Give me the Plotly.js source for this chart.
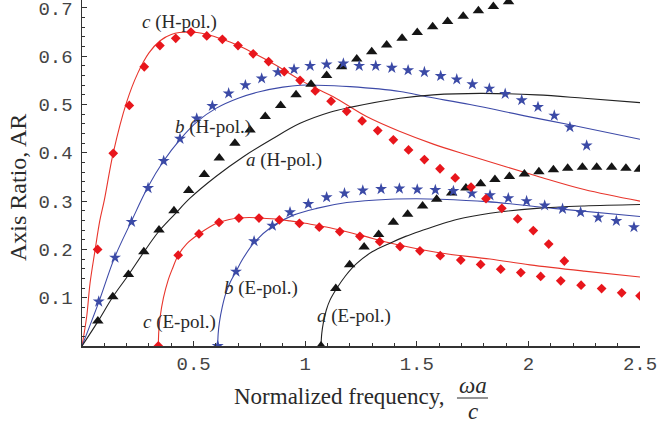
<!DOCTYPE html>
<html>
<head>
<meta charset="utf-8">
<script src="https://cdn.plot.ly/plotly-3.0.1.min.js"></script>
<style>
  html, body { margin: 0; padding: 0; background: #ffffff; }
  #chart { width: 659px; height: 430px; }
</style>
</head>
<body>
<div id="chart"></div>
<script>
// ---------- Data ----------
// c (H-pol.) : measured (red diamonds) and theory (red line)
const cH_x = [0.07,0.14,0.212,0.279,0.349,0.42,0.488,0.559,0.629,0.699,0.767,0.836,0.906,0.977,1.045,1.116,1.186,1.255,1.325,1.395,1.463,1.534,1.604,1.672,1.743,1.81,1.881,1.952,2.022,2.091,2.161];
const cH_y = [0.200,0.399,0.498,0.578,0.622,0.637,0.650,0.642,0.635,0.622,0.605,0.589,0.568,0.550,0.528,0.507,0.486,0.466,0.446,0.427,0.406,0.386,0.367,0.348,0.329,0.305,0.285,0.263,0.239,0.211,0.176];
const cHline_x = [0,0.021,0.036,0.058,0.08,0.1,0.14,0.2,0.25,0.3,0.35,0.4,0.48,0.56,0.63,0.7,0.77,0.84,0.91,0.98,1.05,1.126,1.275,1.425,1.574,1.738,2.037,2.25,2.5];
const cHline_y = [0,0.061,0.13,0.197,0.26,0.302,0.40,0.505,0.565,0.607,0.632,0.645,0.65,0.645,0.635,0.622,0.606,0.589,0.57,0.55,0.533,0.516,0.475,0.444,0.418,0.394,0.352,0.324,0.300];

// b (H-pol.) : blue stars and blue line
const bH_x = [0.075,0.148,0.222,0.296,0.366,0.439,0.514,0.584,0.657,0.732,0.805,0.878,0.950,1.022,1.096,1.171,1.242,1.316,1.388,1.461,1.534,1.607,1.679,1.749,1.825,1.896,1.970,2.043,2.116,2.186,2.261];
const bH_y = [0.092,0.183,0.257,0.327,0.383,0.429,0.471,0.497,0.523,0.540,0.554,0.567,0.573,0.580,0.583,0.585,0.580,0.580,0.576,0.571,0.567,0.559,0.552,0.542,0.533,0.522,0.509,0.495,0.477,0.453,0.415];
const bHline_x = [0,0.076,0.145,0.22,0.294,0.364,0.44,0.52,0.6,0.7,0.8,0.9,0.977,1.05,1.201,1.425,1.544,1.738,2.0,2.186,2.5];
const bHline_y = [0,0.092,0.182,0.257,0.328,0.382,0.428,0.466,0.492,0.513,0.527,0.536,0.540,0.540,0.537,0.527,0.516,0.500,0.475,0.458,0.428];

// a (H-pol.) : black triangles and black line
const aH_x = [0.071,0.138,0.208,0.277,0.345,0.412,0.478,0.548,0.615,0.685,0.753,0.821,0.890,0.959,1.026,1.096,1.163,1.231,1.298,1.365,1.434,1.502,1.571,1.638,1.708,1.776,1.843,1.911];
const aH_y = [0.052,0.102,0.148,0.195,0.240,0.280,0.322,0.355,0.389,0.420,0.447,0.475,0.498,0.520,0.542,0.560,0.578,0.594,0.609,0.623,0.637,0.649,0.661,0.672,0.683,0.694,0.703,0.713];
const aHline_x = [0,0.073,0.137,0.208,0.275,0.342,0.414,0.484,0.6,0.723,0.85,0.977,1.111,1.201,1.425,1.574,1.783,2.037,2.25,2.5];
const aHline_y = [0,0.052,0.101,0.147,0.193,0.236,0.272,0.306,0.351,0.392,0.428,0.461,0.484,0.494,0.513,0.520,0.523,0.520,0.513,0.504];

// c (E-pol.)
const cE_x = [0.342,0.431,0.524,0.614,0.703,0.793,0.884,0.974,1.063,1.155,1.245,1.334,1.425,1.514,1.605,1.697,1.786,1.876,1.966,2.055,2.145,2.236,2.328,2.418,2.5];
const cE_y = [0.0,0.188,0.232,0.256,0.265,0.265,0.261,0.254,0.246,0.237,0.227,0.216,0.206,0.197,0.187,0.178,0.169,0.159,0.152,0.144,0.135,0.126,0.119,0.110,0.104];
const cEline_x = [0.342,0.344,0.35,0.365,0.385,0.405,0.431,0.47,0.524,0.57,0.614,0.66,0.703,0.75,0.793,0.884,0.932,1.0,1.111,1.25,1.41,1.6,1.828,2.007,2.25,2.5];
const cEline_y = [0,0.03,0.06,0.10,0.135,0.16,0.188,0.212,0.232,0.246,0.256,0.262,0.265,0.266,0.265,0.262,0.259,0.254,0.245,0.229,0.210,0.193,0.180,0.168,0.155,0.143];

// b (E-pol.)
const bE_x = [0.608,0.690,0.771,0.853,0.932,1.014,1.096,1.176,1.258,1.340,1.422,1.502,1.583,1.664,1.747,1.828,1.910,1.992,2.073,2.153,2.234,2.313,2.394,2.473];
const bE_y = [0.0,0.154,0.217,0.249,0.277,0.294,0.308,0.316,0.322,0.325,0.326,0.324,0.323,0.321,0.316,0.312,0.306,0.300,0.291,0.284,0.277,0.266,0.259,0.246];
const bEline_x = [0.608,0.610,0.616,0.628,0.645,0.665,0.69,0.72,0.775,0.85,0.947,1.051,1.186,1.38,1.5,1.604,1.813,2.112,2.5];
const bEline_y = [0,0.025,0.05,0.08,0.11,0.133,0.154,0.180,0.216,0.247,0.271,0.285,0.297,0.304,0.305,0.304,0.299,0.285,0.268];

// a (E-pol.)
const aE_x = [1.071,1.137,1.199,1.264,1.329,1.395,1.459,1.526,1.589,1.656,1.72,1.786,1.850,1.915,1.982,2.047,2.112,2.176,2.242,2.306,2.373,2.437,2.497];
const aE_y = [0.0,0.119,0.168,0.205,0.231,0.256,0.273,0.290,0.304,0.317,0.327,0.336,0.345,0.351,0.356,0.361,0.365,0.368,0.370,0.370,0.370,0.368,0.366];
const aEline_x = [1.071,1.074,1.082,1.095,1.111,1.141,1.18,1.231,1.3,1.38,1.45,1.529,1.6,1.679,1.828,2.037,2.25,2.5];
const aEline_y = [0,0.025,0.05,0.075,0.095,0.119,0.145,0.171,0.195,0.213,0.227,0.240,0.251,0.262,0.275,0.285,0.290,0.293];

// Tick labels
const xTickVals = [0.5, 1, 1.5, 2, 2.5];
const xTickText = ["0.5", "1", "1.5", "2", "2.5"];
const yTickVals = [0.1, 0.2, 0.3, 0.4, 0.5, 0.6, 0.7];
const yTickText = ["0.1", "0.2", "0.3", "0.4", "0.5", "0.6", "0.7"];

// Curve labels
const labelText = ["<i>c</i> (H-pol.)", "<i>b</i> (H-pol.)", "<i>a</i> (H-pol.)", "<i>c</i> (E-pol.)", "<i>b</i> (E-pol.)", "<i>a</i> (E-pol.)"];
const labelX = [0.439, 0.587, 0.905, 0.437, 0.800, 1.218];
const labelY = [0.671, 0.453, 0.386, 0.050, 0.120, 0.062];

// ---------- Axis minor tick positions ----------
const xMinor = [], yMinor = [];
for (let i = 0; i <= 25; i++) if (i % 5 !== 0) xMinor.push(+(i * 0.1).toFixed(2));
for (let i = 0; i <= 35; i++) if (i % 5 !== 0) yMinor.push(+(i * 0.02).toFixed(2));

// ---------- Styles ----------
const RED = "#e8161c", BLUE = "#3b4aa6", BLACK = "#151515";
const RED_L = "#e8352c", BLUE_L = "#3d4aa8", BLACK_L = "#222222";

function lineTrace(x, y, color) {
  return { x: x, y: y, type: "scatter", mode: "lines", hoverinfo: "skip",
           line: { color: color, width: 1.1, shape: "spline", smoothing: 1 }, showlegend: false };
}
function markerTrace(x, y, color, symbol, size) {
  return { x: x, y: y, type: "scatter", mode: "markers", cliponaxis: true,
           marker: { color: color, symbol: symbol, size: size, line: { width: 0 } }, showlegend: false };
}

const data = [
  lineTrace(cHline_x, cHline_y, RED_L),
  lineTrace(bHline_x, bHline_y, BLUE_L),
  lineTrace(aHline_x, aHline_y, BLACK_L),
  lineTrace(cEline_x, cEline_y, RED_L),
  lineTrace(bEline_x, bEline_y, BLUE_L),
  lineTrace(aEline_x, aEline_y, BLACK_L),
  markerTrace(aH_x, aH_y, BLACK, "triangle-up", 10),
  markerTrace(aE_x, aE_y, BLACK, "triangle-up", 10),
  markerTrace(bH_x, bH_y, BLUE, "star", 9),
  markerTrace(bE_x, bE_y, BLUE, "star", 9),
  markerTrace(cH_x, cH_y, RED, "diamond", 7.5),
  markerTrace(cE_x, cE_y, RED, "diamond", 7.5)
];

const serif = "Liberation Serif, Times New Roman, serif";
const mono = "Liberation Mono, Courier New, monospace";
const txtColor = "#2a2a2a";

const annotations = labelText.map((t, i) => ({
  text: t, x: labelX[i], y: labelY[i], xref: "x", yref: "y",
  showarrow: false, xanchor: "center", yanchor: "middle",
  font: { family: serif, size: 19, color: txtColor }
}));

// Axis titles (positioned in paper coordinates)
annotations.push({
  text: "Normalized frequency,", xref: "paper", yref: "paper",
  x: 0.654, y: -0.147, xanchor: "right", yanchor: "middle", showarrow: false,
  font: { family: serif, size: 23, color: txtColor }
});
annotations.push({
  text: "<i>ωa</i>", xref: "paper", yref: "paper",
  x: 0.700, y: -0.115, xanchor: "center", yanchor: "middle", showarrow: false,
  font: { family: serif, size: 23, color: txtColor }
});
annotations.push({
  text: "<i>c</i>", xref: "paper", yref: "paper",
  x: 0.700, y: -0.188, xanchor: "center", yanchor: "middle", showarrow: false,
  font: { family: serif, size: 23, color: txtColor }
});
annotations.push({
  text: "Axis Ratio, AR", xref: "paper", yref: "paper",
  x: -0.1147, y: 0.4595, xanchor: "center", yanchor: "middle", textangle: -90, showarrow: false,
  font: { family: serif, size: 24, color: txtColor }
});

const layout = {
  width: 659, height: 430,
  margin: { l: 82, r: 19, t: 0, b: 84, pad: 0 },
  paper_bgcolor: "#ffffff", plot_bgcolor: "#ffffff",
  showlegend: false,
  xaxis: {
    range: [0, 2.5], showgrid: false, zeroline: false,
    showline: true, linecolor: "#333333", linewidth: 1.5,
    ticks: "inside", ticklen: 5, tickwidth: 1, tickcolor: "#333333",
    tickmode: "array", tickvals: xTickVals, ticktext: xTickText,
    minor: { ticks: "inside", ticklen: 3, tickwidth: 1, tickcolor: "#333333", tickmode: "array", tickvals: xMinor, showgrid: false },
    tickfont: { family: mono, size: 19, color: "#444444" },
    ticklabeloverflow: "allow",
    fixedrange: true
  },
  yaxis: {
    range: [0, 0.7164], showgrid: false, zeroline: false,
    showline: true, linecolor: "#333333", linewidth: 1.5,
    ticks: "inside", ticklen: 5, tickwidth: 1, tickcolor: "#333333",
    tickmode: "array", tickvals: yTickVals, ticktext: yTickText,
    minor: { ticks: "inside", ticklen: 3, tickwidth: 1, tickcolor: "#333333", tickmode: "array", tickvals: yMinor, showgrid: false },
    tickfont: { family: mono, size: 19, color: "#444444" },
    ticklabeloverflow: "allow",
    ticklabelstandoff: 4,
    fixedrange: true
  },
  shapes: [{
    type: "line", xref: "paper", yref: "paper",
    x0: 0.672, x1: 0.7276, y0: -0.1503, y1: -0.1503,
    line: { color: txtColor, width: 1 }
  }],
  annotations: annotations
};

Plotly.newPlot("chart", data, layout, { displayModeBar: false, staticPlot: true });
</script>
</body>
</html>
